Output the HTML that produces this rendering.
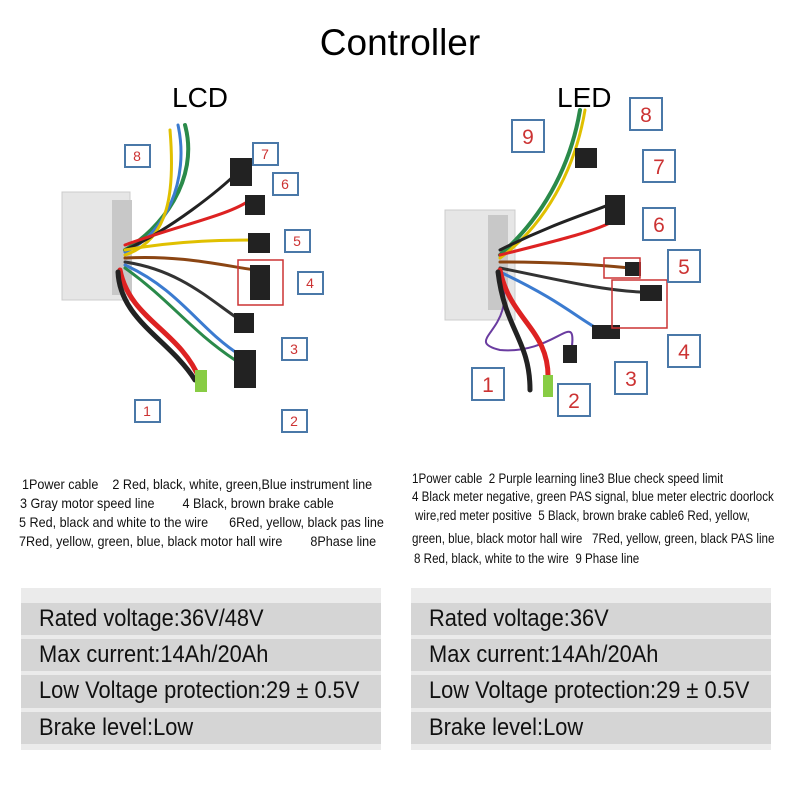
<!DOCTYPE html>
<html><head><style>
body{margin:0;background:#fff;width:800px;height:800px;position:relative;overflow:hidden;font-family:"Liberation Sans",sans-serif}
.t{position:absolute;white-space:nowrap}
.h{font-size:37px;left:0;width:800px;text-align:center;top:22px}
.sub{font-size:28px;top:82px}
.d{font-size:14px;transform:scaleX(0.9);transform-origin:left;color:#111}
.d2{font-size:13.5px;transform:scaleX(0.86);transform-origin:left;color:#111}
.band{position:absolute;background:#ebebeb}
.row{position:absolute;background:#d5d5d5;color:#111;padding-left:18px;box-sizing:border-box;line-height:32px;white-space:nowrap}
.row span{display:inline-block;font-size:24px;transform:scaleX(0.91);transform-origin:left}
</style></head><body>
<div class="t h">Controller</div>
<div class="t sub" style="left:172px">LCD</div>
<div class="t sub" style="left:557px">LED</div>

<svg style="position:absolute;left:0;top:0" width="800" height="460">
<g stroke-linecap="round" fill="none">
<rect x="62" y="192" width="68" height="108" fill="#e6e6e6" stroke="#ccc"/>
<rect x="112" y="200" width="20" height="95" fill="#c8c8c8"/>
<path d="M125 250 C160 230 200 180 185 125" stroke="#2a8a4a" stroke-width="4"/>
<path d="M125 252 C165 235 190 180 178 125" stroke="#3b7bd0" stroke-width="3"/>
<path d="M125 255 C170 240 175 190 170 130" stroke="#e0c000" stroke-width="3"/>
<path d="M125 250 C170 230 220 190 240 170" stroke="#222" stroke-width="3"/>
<path d="M125 245 C180 225 230 215 250 200" stroke="#d22" stroke-width="3"/>
<path d="M125 250 C180 240 230 240 260 240" stroke="#e0c000" stroke-width="3"/>
<path d="M125 258 C180 255 220 265 255 270" stroke="#8b4513" stroke-width="3"/>
<path d="M125 262 C180 270 210 300 240 320" stroke="#333" stroke-width="3"/>
<path d="M125 265 C180 290 200 330 240 355" stroke="#3b7bd0" stroke-width="3"/>
<path d="M125 268 C170 300 190 330 235 360" stroke="#2a8a4a" stroke-width="3"/>
<path d="M120 270 C130 320 180 330 200 380" stroke="#d22" stroke-width="5"/>
<path d="M118 272 C120 320 170 340 195 380" stroke="#222" stroke-width="5"/>
<rect x="195" y="370" width="12" height="22" fill="#8c4" stroke="none"/>
<rect x="230" y="158" width="22" height="28" fill="#222" stroke="none"/>
<rect x="245" y="195" width="20" height="20" fill="#222" stroke="none"/>
<rect x="248" y="233" width="22" height="20" fill="#222" stroke="none"/>
<rect x="250" y="265" width="20" height="35" fill="#222" stroke="none"/>
<rect x="234" y="313" width="20" height="20" fill="#222" stroke="none"/>
<rect x="234" y="350" width="22" height="38" fill="#222" stroke="none"/>
<rect x="238" y="260" width="45" height="45" stroke="#c33" stroke-width="1.5"/>
<rect x="445" y="210" width="70" height="110" fill="#e6e6e6" stroke="#ccc"/>
<rect x="488" y="215" width="20" height="95" fill="#c8c8c8"/>
<path d="M500 255 C540 220 570 170 580 110" stroke="#2a8a4a" stroke-width="4"/>
<path d="M500 258 C545 225 575 170 585 110" stroke="#e0c000" stroke-width="3"/>
<path d="M500 250 C560 220 600 210 620 200" stroke="#222" stroke-width="3"/>
<path d="M500 255 C560 240 600 230 615 220" stroke="#d22" stroke-width="3"/>
<path d="M500 262 C560 262 600 265 630 268" stroke="#8b4513" stroke-width="3"/>
<path d="M500 268 C560 280 600 290 640 292" stroke="#333" stroke-width="3"/>
<path d="M500 272 C560 300 580 320 600 330" stroke="#3b7bd0" stroke-width="3"/>
<path d="M500 275 C520 330 460 340 500 350 C560 355 580 300 570 360" stroke="#6a3ca0" stroke-width="2"/>
<path d="M500 270 C510 320 550 330 548 380" stroke="#d22" stroke-width="5"/>
<path d="M498 272 C505 330 530 340 530 390" stroke="#222" stroke-width="5"/>
<rect x="543" y="375" width="10" height="22" fill="#8c4" stroke="none"/>
<rect x="575" y="148" width="22" height="20" fill="#222" stroke="none"/>
<rect x="605" y="195" width="20" height="30" fill="#222" stroke="none"/>
<rect x="625" y="262" width="16" height="14" fill="#222" stroke="none"/>
<rect x="640" y="285" width="22" height="16" fill="#222" stroke="none"/>
<rect x="592" y="325" width="28" height="14" fill="#222" stroke="none"/>
<rect x="563" y="345" width="14" height="18" fill="#222" stroke="none"/>
<rect x="604" y="258" width="36" height="20" stroke="#c33" stroke-width="1.5"/>
<rect x="612" y="280" width="55" height="48" stroke="#c33" stroke-width="1.5"/>
</g>
<g fill="#fff" stroke="#4a78a8" stroke-width="2">
<rect x="125" y="145" width="25" height="22"/><rect x="253" y="143" width="25" height="22"/>
<rect x="273" y="173" width="25" height="22"/><rect x="285" y="230" width="25" height="22"/>
<rect x="298" y="272" width="25" height="22"/><rect x="282" y="338" width="25" height="22"/>
<rect x="282" y="410" width="25" height="22"/><rect x="135" y="400" width="25" height="22"/>
<rect x="512" y="120" width="32" height="32"/><rect x="630" y="98" width="32" height="32"/>
<rect x="643" y="150" width="32" height="32"/><rect x="643" y="208" width="32" height="32"/>
<rect x="668" y="250" width="32" height="32"/><rect x="668" y="335" width="32" height="32"/>
<rect x="615" y="362" width="32" height="32"/><rect x="558" y="384" width="32" height="32"/>
<rect x="472" y="368" width="32" height="32"/>
</g>
<g fill="#c33" font-family="Liberation Sans" font-size="14" text-anchor="middle">
<text x="137" y="161">8</text><text x="265" y="159">7</text><text x="285" y="189">6</text>
<text x="297" y="246">5</text><text x="310" y="288">4</text><text x="294" y="354">3</text>
<text x="294" y="426">2</text><text x="147" y="416">1</text>
</g>
<g fill="#c33" font-family="Liberation Sans" font-size="21" text-anchor="middle">
<text x="528" y="144">9</text><text x="646" y="122">8</text><text x="659" y="174">7</text>
<text x="659" y="232">6</text><text x="684" y="274">5</text><text x="684" y="359">4</text>
<text x="631" y="386">3</text><text x="574" y="408">2</text><text x="488" y="392">1</text>
</g>
</svg>

<div class="t d" style="left:22px;top:476px">1Power cable&nbsp;&nbsp;&nbsp; 2 Red, black, white, green,Blue instrument line</div>
<div class="t d" style="left:20px;top:495px">3 Gray motor speed line&nbsp;&nbsp;&nbsp;&nbsp;&nbsp;&nbsp;&nbsp; 4 Black, brown brake cable</div>
<div class="t d" style="left:19px;top:514px">5 Red, black and white to the wire&nbsp;&nbsp;&nbsp;&nbsp;&nbsp; 6Red, yellow, black pas line</div>
<div class="t d" style="left:19px;top:533px">7Red, yellow, green, blue, black motor hall wire&nbsp;&nbsp;&nbsp;&nbsp;&nbsp;&nbsp;&nbsp; 8Phase line</div>

<div class="t d2" style="left:412px;top:471px">1Power cable&nbsp; 2 Purple learning line3 Blue check speed limit</div>
<div class="t d2" style="left:412px;top:489px">4 Black meter negative, green PAS signal, blue meter electric doorlock</div>
<div class="t d2" style="left:415px;top:508px">wire,red meter positive&nbsp; 5 Black, brown brake cable6 Red, yellow,</div>
<div class="t d2" style="left:412px;top:531px">green, blue, black motor hall wire&nbsp;&nbsp; 7Red, yellow, green, black PAS line</div>
<div class="t d2" style="left:414px;top:551px">8 Red, black, white to the wire&nbsp; 9 Phase line</div>

<div class="band" style="left:21px;top:588px;width:360px;height:162px"></div>
<div class="band" style="left:411px;top:588px;width:360px;height:162px"></div>
<div class="row" style="left:21px;top:603px;width:360px;height:32px"><span>Rated voltage:36V/48V</span></div>
<div class="row" style="left:21px;top:639px;width:360px;height:32px"><span>Max current:14Ah/20Ah</span></div>
<div class="row" style="left:21px;top:675px;width:360px;height:33px"><span>Low Voltage protection:29 ± 0.5V</span></div>
<div class="row" style="left:21px;top:712px;width:360px;height:32px"><span>Brake level:Low</span></div>
<div class="row" style="left:411px;top:603px;width:360px;height:32px"><span>Rated voltage:36V</span></div>
<div class="row" style="left:411px;top:639px;width:360px;height:32px"><span>Max current:14Ah/20Ah</span></div>
<div class="row" style="left:411px;top:675px;width:360px;height:33px"><span>Low Voltage protection:29 ± 0.5V</span></div>
<div class="row" style="left:411px;top:712px;width:360px;height:32px"><span>Brake level:Low</span></div>
</body></html>
